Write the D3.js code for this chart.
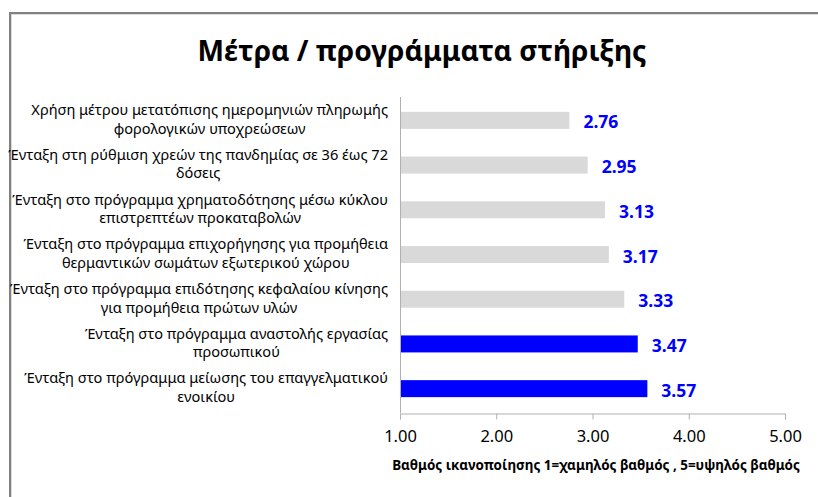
<!DOCTYPE html>
<html>
<head>
<meta charset="utf-8">
<script src="https://cdn.jsdelivr.net/npm/d3@7"></script>
<style>
  body { margin: 0; background: #fff; }
  svg { display: block; }
</style>
</head>
<body>
<svg width="818" height="497"></svg>
<script>
// Μέτρα / προγράμματα στήριξης - οριζόντιες μπάρες

var categories = [
  "Χρήση μέτρου μετατόπισης ημερομηνιών πληρωμής\nφορολογικών υποχρεώσεων",
  "Ένταξη στη ρύθμιση χρεών της πανδημίας σε 36 έως 72\nδόσεις",
  "Ένταξη στο πρόγραμμα χρηματοδότησης μέσω κύκλου\nεπιστρεπτέων προκαταβολών",
  "Ένταξη στο πρόγραμμα επιχορήγησης για προμήθεια\nθερμαντικών σωμάτων εξωτερικού χώρου",
  "Ένταξη στο πρόγραμμα επιδότησης κεφαλαίου κίνησης\nγια προμήθεια πρώτων υλών",
  "Ένταξη στο πρόγραμμα αναστολής εργασίας\nπροσωπικού",
  "Ένταξη στο πρόγραμμα μείωσης του επαγγελματικού\nενοικίου"
];
var values = [2.76, 2.95, 3.13, 3.17, 3.33, 3.47, 3.57];
var highlighted = [false, false, false, false, false, true, true];
var xTicks = [1, 2, 3, 4, 5];

var title = "Μέτρα / προγράμματα στήριξης";
var xTitle = "Βαθμός ικανοποίησης 1=χαμηλός βαθμός , 5=υψηλός βαθμός";

var svg = d3.select("svg");
var font = "'Noto Sans', 'Open Sans', sans-serif";

// πλαίσιο γραφήματος
svg.append("rect")
  .attr("x", 10).attr("y", 13)
  .attr("width", 1000).attr("height", 1000)
  .attr("fill", "none")
  .attr("stroke", "#808080")
  .attr("stroke-width", 2);
svg.append("rect")
  .attr("x", 11.5).attr("y", 14.5)
  .attr("width", 1000).attr("height", 1000)
  .attr("fill", "none")
  .attr("stroke", "#dcdcdc")
  .attr("stroke-width", 1);

// βοηθητικό: ρυθμίζει μέγεθος γραμματοσειράς ώστε το κείμενο να έχει το πλάτος
function fitText(sel, target) {
  var w = sel.node().getComputedTextLength();
  var fs = parseFloat(sel.attr("font-size"));
  sel.attr("font-size", (fs * target / w).toFixed(2));
}

var x = d3.scaleLinear().domain([1, 5]).range([400, 785]);
var y = d3.scaleBand()
  .domain(categories)
  .range([98, 411])
  .paddingInner(0.62)
  .paddingOuter(0.31);

// τίτλος
var t = svg.append("text")
  .attr("x", 422).attr("y", 61)
  .attr("text-anchor", "middle")
  .attr("font-family", font)
  .attr("font-weight", "bold")
  .attr("font-size", 26)
  .attr("fill", "#000")
  .text(title);
fitText(t, 449);

// μπάρες
svg.append("g")
  .selectAll("rect")
  .data(values)
  .enter().append("rect")
  .attr("x", x(1))
  .attr("y", function(d, i) { return y(categories[i]); })
  .attr("width", function(d) { return x(d) - x(1); })
  .attr("height", y.bandwidth())
  .attr("fill", function(d, i) { return highlighted[i] ? "#0000ff" : "#d9d9d9"; });

// τιμές
svg.append("g")
  .selectAll("text")
  .data(values)
  .enter().append("text")
  .attr("x", function(d) { return x(d) + 14; })
  .attr("y", function(d, i) { return y(categories[i]) + y.bandwidth() / 2 + 2; })
  .attr("dy", "0.35em")
  .attr("font-family", font)
  .attr("font-weight", "bold")
  .attr("font-size", 17.5)
  .attr("fill", "#0000ff")
  .text(function(d) { return d.toFixed(2); });

// άξονας Y (μόνο γραμμή)
svg.append("line")
  .attr("x1", x(1) + 0.5).attr("x2", x(1) + 0.5)
  .attr("y1", 97).attr("y2", 413)
  .attr("stroke", "#b0b0b0");

// άξονας X
var xAxis = svg.append("g")
  .attr("transform", "translate(0,413.5)")
  .call(d3.axisBottom(x).tickValues(xTicks).tickSize(6).tickPadding(11)
    .tickFormat(d3.format(".2f")));
xAxis.select(".domain").attr("stroke", "#b0b0b0");
xAxis.selectAll(".tick line").attr("stroke", "#b0b0b0");
xAxis.selectAll(".tick text")
  .attr("font-family", font)
  .attr("font-size", 16.5)
  .attr("fill", "#000");

var xt = svg.append("text")
  .attr("x", 596).attr("y", 470)
  .attr("text-anchor", "middle")
  .attr("font-family", font)
  .attr("font-weight", "bold")
  .attr("font-size", 12)
  .attr("fill", "#000")
  .text(xTitle);
fitText(xt, 408);

// ετικέτες κατηγοριών: κεντραρισμένες γραμμές, δεξιά στοίχιση του μπλοκ
var labelSize = 14;
var labels = svg.append("g")
  .attr("font-family", font)
  .attr("font-size", labelSize)
  .attr("fill", "#000");

var blocks = labels.selectAll("text")
  .data(categories)
  .enter().append("text")
  .attr("text-anchor", "middle");

blocks.each(function(d) {
  var lines = d.split("\n");
  var el = d3.select(this);
  lines.forEach(function(l) { el.append("tspan").text(l); });
});

// κλίμακα μεγέθους ώστε η φαρδύτερη γραμμή να είναι ~380px
var widest = 0;
labels.selectAll("tspan").each(function() {
  widest = Math.max(widest, this.getComputedTextLength());
});
labelSize = labelSize * 380 / widest;
labels.attr("font-size", labelSize.toFixed(2));

var lineH = 18.5;
blocks.each(function(d) {
  var el = d3.select(this);
  var spans = el.selectAll("tspan");
  var n = spans.size();
  var maxW = 0;
  spans.each(function() { maxW = Math.max(maxW, this.getComputedTextLength()); });
  var cx = 388 - maxW / 2;
  var cy = y(d) + y.bandwidth() / 2 - 1;
  spans
    .attr("x", cx)
    .attr("y", function(s, i) { return cy + (i - (n - 1) / 2) * lineH; })
    .attr("dy", "0.35em");
});
</script>
</body>
</html>
